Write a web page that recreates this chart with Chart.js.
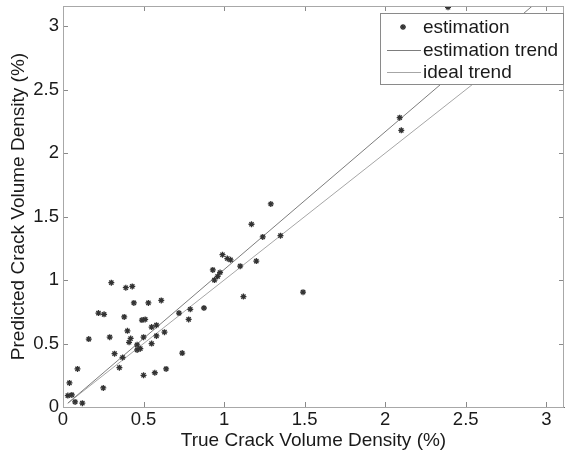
<!DOCTYPE html>
<html lang="en">
<head>
	<meta charset="UTF-8"/>
	<title>Predicted vs true crack volume density</title>
	<script src="https://cdn.jsdelivr.net/npm/chart.js"></script>
	<style>
		body {
			margin: 0;
			background: #fff;
		}
		.box {
			width: 565px;
			height: 455px;
		}
	</style>
</head>
<body>
<div class="box">
	<canvas id="myChart" width="565" height="455"></canvas>
</div>

<script>
	// estimation points: true vs predicted crack volume density (%)
	const trueVals = [
		0.03, 0.055, 0.075, 0.12, 0.04, 0.09, 0.16, 0.25, 0.22, 0.255,
		0.30, 0.39, 0.43, 0.29, 0.32, 0.35, 0.37, 0.38, 0.40, 0.42,
		0.41, 0.44, 0.46, 0.48, 0.46, 0.49, 0.51, 0.50, 0.50, 0.53,
		0.55, 0.58, 0.55, 0.58, 0.63, 0.57, 0.64, 0.61, 0.72, 0.78,
		0.79, 0.74, 0.875, 0.93, 0.975, 0.96, 0.94, 0.99, 1.02, 1.04,
		1.10, 1.12, 1.20, 1.17, 1.24, 1.35, 1.29, 1.49, 2.09, 2.10,
		2.39
	];
	const predVals = [
		0.09, 0.095, 0.04, 0.03, 0.19, 0.30, 0.535, 0.15, 0.74, 0.73,
		0.98, 0.94, 0.95, 0.55, 0.42, 0.31, 0.39, 0.71, 0.60, 0.54,
		0.51, 0.82, 0.49, 0.46, 0.45, 0.685, 0.69, 0.55, 0.25, 0.82,
		0.63, 0.645, 0.50, 0.56, 0.59, 0.27, 0.30, 0.84, 0.74, 0.69,
		0.77, 0.425, 0.78, 1.08, 1.06, 1.03, 1.00, 1.20, 1.17, 1.16,
		1.11, 0.87, 1.15, 1.44, 1.34, 1.35, 1.60, 0.905, 2.28, 2.18,
		3.15
	];

	// trend line end points
	const estTrendX = [0.03, 2.95];
	const estTrendY = [0.03, 3.2];
	const idealTrendX = [0.03, 3.2];
	const idealTrendY = [0.03, 3.2];

	const xTicks = [0, 0.5, 1, 1.5, 2, 2.5, 3];
	const yTicks = [0, 0.5, 1, 1.5, 2, 2.5, 3];

	const legendLabels = ["estimation", "estimation trend", "ideal trend"];

	const toPoints = (xs, ys) => xs.map((x, i) => ({ x: x, y: ys[i] }));

	Chart.defaults.font.family = "'Liberation Sans', Arial, sans-serif";
	Chart.defaults.color = "#1a1a1a";

	const axisGray = "#8a8a8a";

	// inward ticks, box and legend inside the plot (MATLAB look)
	const framePlugin = {
		id: "frame",
		afterDatasetsDraw(chart) {
			const { ctx, chartArea: a, scales } = chart;
			ctx.save();
			ctx.strokeStyle = axisGray;
			ctx.lineWidth = 1;
			ctx.beginPath();
			xTicks.forEach(v => {
				const px = Math.round(scales.x.getPixelForValue(v)) + 0.5;
				ctx.moveTo(px, a.bottom);
				ctx.lineTo(px, a.bottom - 5);
				ctx.moveTo(px, a.top);
				ctx.lineTo(px, a.top + 5);
			});
			yTicks.forEach(v => {
				const py = Math.round(scales.y.getPixelForValue(v)) + 0.5;
				ctx.moveTo(a.left, py);
				ctx.lineTo(a.left + 5, py);
				ctx.moveTo(a.right, py);
				ctx.lineTo(a.right - 5, py);
			});
			ctx.stroke();
			ctx.strokeStyle = "#a8a8a8";
			ctx.strokeRect(a.left + 0.5, a.top + 0.5, a.right - a.left - 1, a.bottom - a.top);
			ctx.restore();
		},
		afterDraw(chart) {
			const { ctx, chartArea: a } = chart;
			const w = 183, h = 71;
			const left = a.right - w - 1, top = a.top + 7;
			ctx.save();
			ctx.fillStyle = "#fff";
			ctx.fillRect(left, top, w, h);
			ctx.strokeStyle = "#8a8a8a";
			ctx.lineWidth = 1;
			ctx.strokeRect(left + 0.5, top + 0.5, w, h);

			const rows = [top + 14, top + 36.5, top + 58.5];
			const ds = chart.data.datasets;

			// marker row
			ctx.strokeStyle = ds[0].borderColor;
			ctx.lineWidth = 1.3;
			ctx.beginPath();
			const mx = left + 23, my = rows[0], r = 3;
			ctx.moveTo(mx - r, my); ctx.lineTo(mx + r, my);
			ctx.moveTo(mx, my - r); ctx.lineTo(mx, my + r);
			ctx.moveTo(mx - r * 0.7, my - r * 0.7); ctx.lineTo(mx + r * 0.7, my + r * 0.7);
			ctx.moveTo(mx - r * 0.7, my + r * 0.7); ctx.lineTo(mx + r * 0.7, my - r * 0.7);
			ctx.stroke();

			// line rows
			[1, 2].forEach(i => {
				ctx.strokeStyle = ds[i].borderColor;
				ctx.lineWidth = 1;
				ctx.beginPath();
				ctx.moveTo(left + 7, Math.round(rows[i]) + 0.5);
				ctx.lineTo(left + 41, Math.round(rows[i]) + 0.5);
				ctx.stroke();
			});

			ctx.fillStyle = "#1a1a1a";
			ctx.font = "19px 'Liberation Sans', Arial, sans-serif";
			ctx.textBaseline = "middle";
			legendLabels.forEach((t, i) => ctx.fillText(t, left + 43, rows[i] + 1));
			ctx.restore();
		}
	};

	const ctx = document.getElementById("myChart").getContext("2d");
	const myChart = new Chart(ctx, {
		type: "scatter",
		data: {
			datasets: [
				{
					label: legendLabels[0],
					data: toPoints(trueVals, predVals),
					pointStyle: "star",
					pointRadius: 3,
					borderWidth: 1.3,
					borderColor: "#333",
					backgroundColor: "#333",
					order: 0
				},
				{
					label: legendLabels[1],
					type: "line",
					data: toPoints(estTrendX, estTrendY),
					borderColor: "#7d7d7d",
					borderWidth: 1,
					pointRadius: 0,
					order: 1
				},
				{
					label: legendLabels[2],
					type: "line",
					data: toPoints(idealTrendX, idealTrendY),
					borderColor: "#a6a6a6",
					borderWidth: 1,
					pointRadius: 0,
					order: 2
				}
			]
		},
		options: {
			responsive: false,
			animation: false,
			layout: { autoPadding: false, padding: { top: 6, right: 1, left: 0, bottom: 0 } },
			plugins: {
				legend: { display: false },
				tooltip: { enabled: false }
			},
			scales: {
				x: {
					type: "linear",
					min: 0,
					max: 3.11,
					afterFit: s => {
						s.height = 48;
						s.paddingLeft = 0;
						s.paddingRight = 0;
					},
					afterBuildTicks: s => { s.ticks = xTicks.map(v => ({ value: v })); },
					ticks: { font: { size: 18.5 }, padding: 2, maxRotation: 0, callback: v => String(v) },
					grid: { display: false, drawTicks: false },
					border: { display: true, color: "#6e6e6e" },
					title: {
						display: true,
						text: "True Crack Volume Density (%)",
						font: { size: 19 },
						padding: { top: 0, bottom: 3 }
					}
				},
				y: {
					type: "linear",
					min: 0,
					max: 3.16,
					afterFit: s => {
						s.width = 63;
						s.paddingTop = 0;
						s.paddingBottom = 0;
					},
					afterBuildTicks: s => { s.ticks = yTicks.map(v => ({ value: v })); },
					ticks: { font: { size: 18.5 }, padding: 4, callback: v => String(v) },
					grid: { display: false, drawTicks: false },
					border: { display: true, color: axisGray },
					title: {
						display: true,
						text: "Predicted Crack Volume Density (%)",
						font: { size: 19 },
						padding: { top: 7, bottom: 0 }
					}
				}
			}
		},
		plugins: [framePlugin]
	});
</script>
</body>
</html>
